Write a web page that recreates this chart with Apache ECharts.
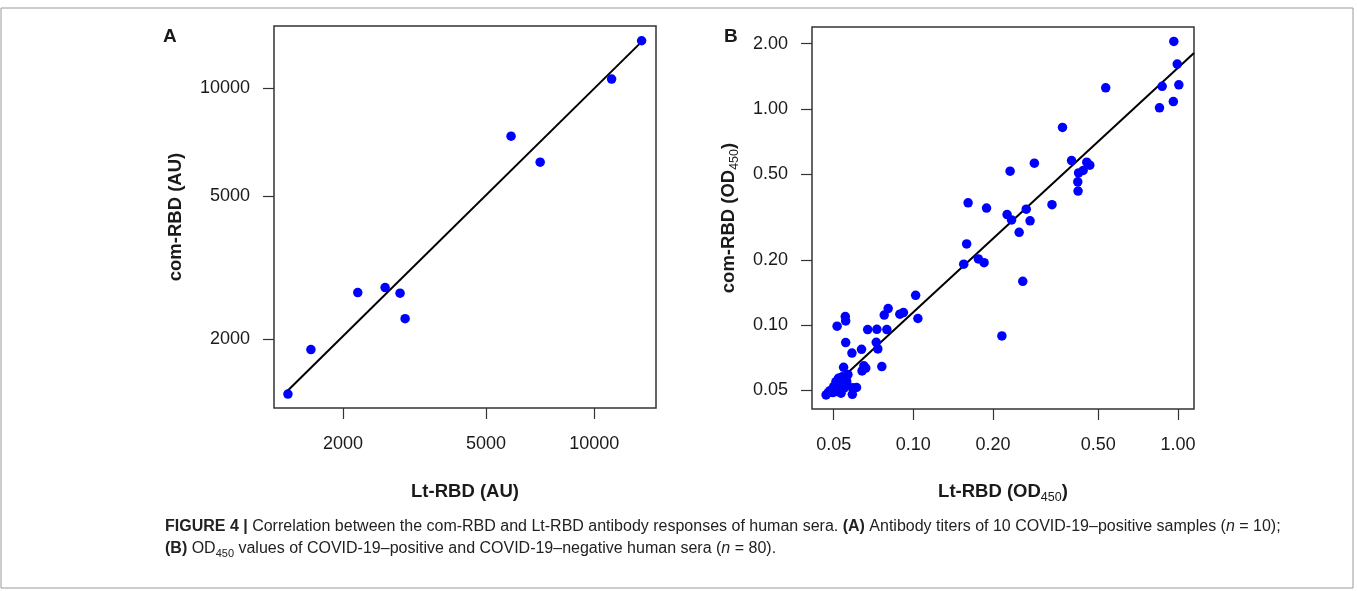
<!DOCTYPE html>
<html>
<head>
<meta charset="utf-8">
<script src="https://cdn.jsdelivr.net/npm/echarts@6/dist/echarts.min.js"></script>
<style>
  html, body { margin: 0; padding: 0; background: #fff; }
  #main { width: 1357px; height: 591px; }
</style>
</head>
<body>
<div id="main"></div>
<script>
// Panel A: antibody titers (AU), 10 samples
var aLtRbd = [1405, 1628, 2198, 2619, 2882, 2977, 5870, 7074, 11181, 13552]
var aComRbd = [1405, 1868, 2692, 2780, 2682, 2278, 7334, 6207, 10574, 13521]
var aTicks = [2000, 5000, 10000]
var aFitX = [1402, 13410]
var aFitY = [1435, 13295]

// Panel B: OD450 values, 80 sera
var bLtRbd = [
  0.964, 0.993, 1.007, 0.871, 0.96, 0.851, 0.533, 0.366, 0.396, 0.452,
  0.464, 0.438, 0.421, 0.418, 0.419, 0.232, 0.2865, 0.161, 0.189, 0.226,
  0.235, 0.267, 0.276, 0.334, 0.251, 0.159, 0.155, 0.176, 0.185, 0.259,
  0.216, 0.102, 0.104, 0.0803, 0.0776, 0.0889, 0.0917, 0.0672, 0.0728, 0.0794,
  0.0724, 0.0734, 0.076, 0.0553, 0.0555, 0.0515, 0.0555, 0.0586, 0.0637, 0.065,
  0.0661, 0.064, 0.0545, 0.0566, 0.0468, 0.0484, 0.0506, 0.0516, 0.0525, 0.0531,
  0.0544, 0.0556, 0.0513, 0.0531, 0.0547, 0.0536, 0.05, 0.0552, 0.0524, 0.0588,
  0.061, 0.0588, 0.051, 0.0539, 0.0477, 0.0496, 0.0521, 0.056, 0.0533, 0.0541
]
var bComRbd = [
  2.05, 1.61, 1.29, 1.27, 1.08, 1.01, 1.25, 0.82, 0.576, 0.566,
  0.548, 0.518, 0.505, 0.459, 0.416, 0.514, 0.56, 0.367, 0.347, 0.324,
  0.306, 0.343, 0.303, 0.36, 0.268, 0.237, 0.191, 0.202, 0.194, 0.159,
  0.0889, 0.137, 0.107, 0.119, 0.111, 0.112, 0.114, 0.0951, 0.0954, 0.0951,
  0.083, 0.0774, 0.0641, 0.1093, 0.1043, 0.0986, 0.0828, 0.074, 0.0771, 0.0646,
  0.0631, 0.0612, 0.0636, 0.0589, 0.0474, 0.0496, 0.05, 0.0522, 0.0546, 0.0556,
  0.0556, 0.056, 0.0491, 0.0495, 0.0509, 0.0527, 0.0518, 0.0533, 0.0509, 0.0511,
  0.0513, 0.0477, 0.0546, 0.0576, 0.0486, 0.0486, 0.0566, 0.0546, 0.0483, 0.0519
]
var bTicks = [0.05, 0.10, 0.20, 0.50, 1.00, 2.00]
var bFitX = [0.0565, 1.149]
var bFitY = [0.0601, 1.81]

var FONT = 'Liberation Sans, Arial, Helvetica, sans-serif'
var INK = '#1a1a1a'

function pairs (xs, ys) {
  return xs.map(function (x, i) { return [x, ys[i]] })
}

function logAxis (opts) {
  return {
    type: 'log',
    gridIndex: opts.grid,
    min: opts.min,
    max: opts.max,
    name: opts.name,
    nameLocation: 'middle',
    nameGap: opts.nameGap,
    nameTextStyle: {
      fontFamily: FONT,
      fontWeight: 'bold',
      fontSize: 18.5,
      color: INK,
      rich: {
        s: { fontFamily: FONT, fontWeight: 'normal', fontSize: 12.5, color: INK, verticalAlign: 'bottom', padding: [12, 0, 0, 0] }
      }
    },
    axisLine: { show: false },
    splitLine: { show: false },
    minorTick: { show: false },
    axisTick: {
      show: true,
      inside: false,
      length: 11,
      lineStyle: { color: '#333', width: 1.2 },
      customValues: opts.ticks
    },
    axisLabel: {
      margin: opts.labelMargin,
      fontFamily: FONT,
      fontSize: 18,
      color: INK,
      customValues: opts.ticks,
      formatter: opts.fmt
    }
  }
}

var chart = echarts.init(document.getElementById('main'), null, { renderer: 'canvas' })

var captionRich = {
  b: { fontFamily: FONT, fontSize: 16, fontWeight: 'bold', fill: '#222' },
  i: { fontFamily: FONT, fontSize: 16, fontStyle: 'italic', fill: '#222' },
  s: { fontFamily: FONT, fontSize: 11, fill: '#222', verticalAlign: 'bottom', padding: [10, 0, 0, 0] }
}

var option = {
  backgroundColor: '#fff',
  animation: false,
  grid: [
    { left: 274, top: 26, width: 382, height: 382, show: true, borderColor: '#333', borderWidth: 1.5, backgroundColor: 'transparent' },
    { left: 812, top: 27, width: 382, height: 382, show: true, borderColor: '#333', borderWidth: 1.5, backgroundColor: 'transparent' }
  ],
  xAxis: [
    logAxis({ grid: 0, min: 1285, max: 14860, name: 'Lt-RBD (AU)', nameGap: 74, labelMargin: 27, ticks: aTicks, fmt: function (v) { return String(Math.round(v)) } }),
    logAxis({ grid: 1, min: 0.0414, max: 1.149, name: 'Lt-RBD (OD{s|450})', nameGap: 70, labelMargin: 27, ticks: bTicks, fmt: function (v) { return v.toFixed(2) } })
  ],
  yAxis: [
    logAxis({ grid: 0, min: 1285, max: 14860, name: 'com-RBD (AU)', nameGap: 89, labelMargin: 24, ticks: aTicks, fmt: function (v) { return String(Math.round(v)) } }),
    logAxis({ grid: 1, min: 0.0408, max: 2.39, name: 'com-RBD (OD{s|450})', nameGap: 71, labelMargin: 24, ticks: bTicks, fmt: function (v) { return v.toFixed(2) } })
  ],
  series: [
    {
      type: 'line',
      xAxisIndex: 0,
      yAxisIndex: 0,
      data: pairs(aFitX, aFitY),
      symbol: 'none',
      lineStyle: { color: '#000', width: 2 },
      z: 2
    },
    {
      type: 'scatter',
      xAxisIndex: 0,
      yAxisIndex: 0,
      data: pairs(aLtRbd, aComRbd),
      symbolSize: 9.5,
      itemStyle: { color: '#0000ff', opacity: 1 },
      z: 3
    },
    {
      type: 'line',
      xAxisIndex: 1,
      yAxisIndex: 1,
      data: pairs(bFitX, bFitY),
      symbol: 'none',
      lineStyle: { color: '#000', width: 2 },
      z: 2
    },
    {
      type: 'scatter',
      xAxisIndex: 1,
      yAxisIndex: 1,
      data: pairs(bLtRbd, bComRbd),
      symbolSize: 9.5,
      itemStyle: { color: '#0000ff', opacity: 1 },
      z: 3
    }
  ],
  graphic: [
    {
      type: 'rect',
      shape: { x: 1, y: 8, width: 1352, height: 580 },
      style: { fill: 'none', stroke: '#9a9a9a', lineWidth: 1 },
      silent: true
    },
    {
      type: 'text',
      left: 163,
      top: 27,
      style: { text: 'A', font: 'bold 19px ' + FONT, fill: INK }
    },
    {
      type: 'text',
      left: 724,
      top: 27,
      style: { text: 'B', font: 'bold 19px ' + FONT, fill: INK }
    },
    {
      type: 'text',
      left: 165,
      top: 519,
      style: {
        text: '{b|FIGURE 4 |} Correlation between the com-RBD and Lt-RBD antibody responses of human sera. {b|(A)} Antibody titers of 10 COVID-19–positive samples ({i|n} = 10);',
        font: '16px ' + FONT,
        fill: '#222',
        rich: captionRich
      }
    },
    {
      type: 'text',
      left: 165,
      top: 541,
      style: {
        text: '{b|(B)} OD{s|450} values of COVID-19–positive and COVID-19–negative human sera ({i|n} = 80).',
        font: '16px ' + FONT,
        fill: '#222',
        rich: captionRich
      }
    }
  ]
}

chart.setOption(option)
</script>
</body>
</html>
